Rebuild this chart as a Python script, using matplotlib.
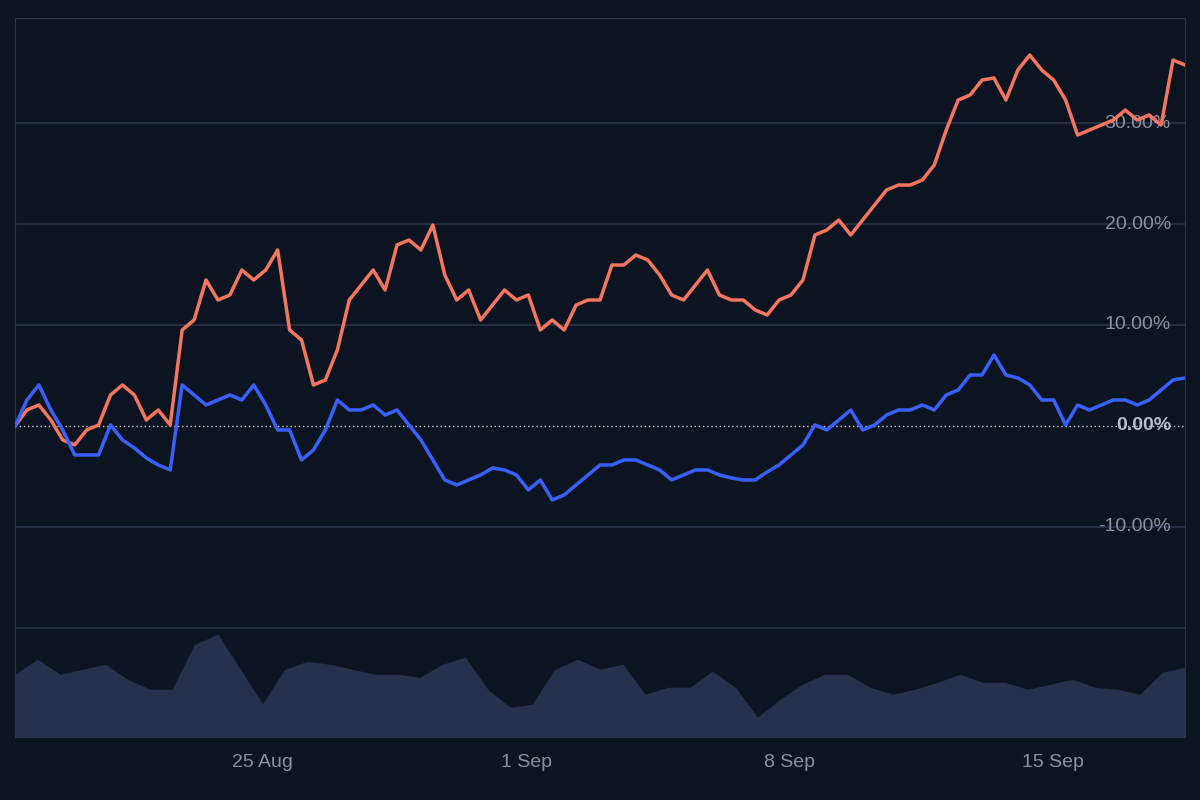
import matplotlib
matplotlib.use("Agg")
import matplotlib.pyplot as plt
import numpy as np
import pandas as pd

plt.rcParams["font.family"] = "Liberation Sans"

orange_px = [426,410,405,420,440,445,430,425,395,385,395,420,410,425,330,320,280,300,295,270,280,270,250,330,340,385,380,350,300,285,270,290,245,240,250,225,275,300,290,320,305,290,300,295,330,320,330,305,300,300,265,265,255,260,275,295,300,285,270,295,300,300,310,315,300,295,280,235,230,220,235,220,205,190,185,185,180,165,130,100,95,80,78,100,70,55,70,80,100,135,130,125,120,110,120,115,125,60,65]
blue_px = [426,400,385,410,430,455,455,455,425,440,448,458,465,470,385,395,405,400,395,400,385,405,430,430,460,450,430,400,410,410,405,415,410,425,440,460,480,485,480,475,468,470,475,490,480,500,495,485,475,465,465,460,460,465,470,480,475,470,470,475,478,480,480,472,465,455,445,425,430,420,410,430,425,415,410,410,405,410,395,390,375,375,355,375,378,385,400,400,425,405,410,405,400,400,405,400,390,380,378]
vol_px = [675,660,675,670,665,680,690,690,645,635,670,705,670,662,665,670,675,675,678,665,658,690,708,705,670,660,670,665,695,688,688,672,688,718,700,685,675,675,688,695,690,683,675,683,683,690,685,680,688,690,695,673,668]

orange = [(426 - y) / 10.1 for y in orange_px]
blue = [(426 - y) / 10.1 for y in blue_px]
volume = [737 - y for y in vol_px]

start = pd.Timestamp("2024-08-18 10:00")
end = pd.Timestamp("2024-09-18 12:00")
t_o = pd.date_range(start, end, periods=len(orange))
t_b = pd.date_range(start, end, periods=len(blue))
t_v = pd.date_range(start, end, periods=len(volume))

bg = "#0d1421"
fig = plt.figure(figsize=(12, 8), dpi=100, facecolor=bg)
ax = fig.add_axes([15/1200, 63/800, 1170/1200, 719/800])
ax.set_facecolor(bg)
ax2 = ax.twinx()
ax2.set_ylim(0, 719)
ax2.axis("off")
ax2.fill_between(t_v, volume, 0, color="#27304d", zorder=1)
ax.set_zorder(ax2.get_zorder() + 1)
ax.patch.set_visible(False)

ax.set_ylim(-30.8, 40.4)
ax.set_xlim(start, end)
for v in [30, 20, 10, -10, -20]:
    ax.axhline(v, color="#2b3347", lw=1.2, zorder=0)
ax.axhline(0, color="#c8ccd6", lw=1, ls=(0, (1, 2)), zorder=1)
ax.plot(t_o, orange, color="#f5765e", lw=2.5, zorder=3)
ax.plot(t_b, blue, color="#3861fb", lw=2.5, zorder=3)

ax.set_yticks([])
for v in [30, 20, 10, 0, -10]:
    ax.text(0.988, v, f"{v:.2f}%", transform=ax.get_yaxis_transform(), ha="right", va="center",
            color="#b8bdc8" if v == 0 else "#8a91a0", fontsize=14,
            fontweight="bold" if v == 0 else "normal", zorder=2)
ticks = pd.to_datetime(["2024-08-25", "2024-09-01", "2024-09-08", "2024-09-15"])
ax.set_xticks(ticks)
ax.set_xticklabels(["25 Aug", "1 Sep", "8 Sep", "15 Sep"], color="#8a91a0", fontsize=14)
ax.tick_params(axis="x", length=0, pad=12)
for s in ax.spines.values():
    s.set_color("#2b3347")
fig.savefig("out.png", facecolor=bg)
